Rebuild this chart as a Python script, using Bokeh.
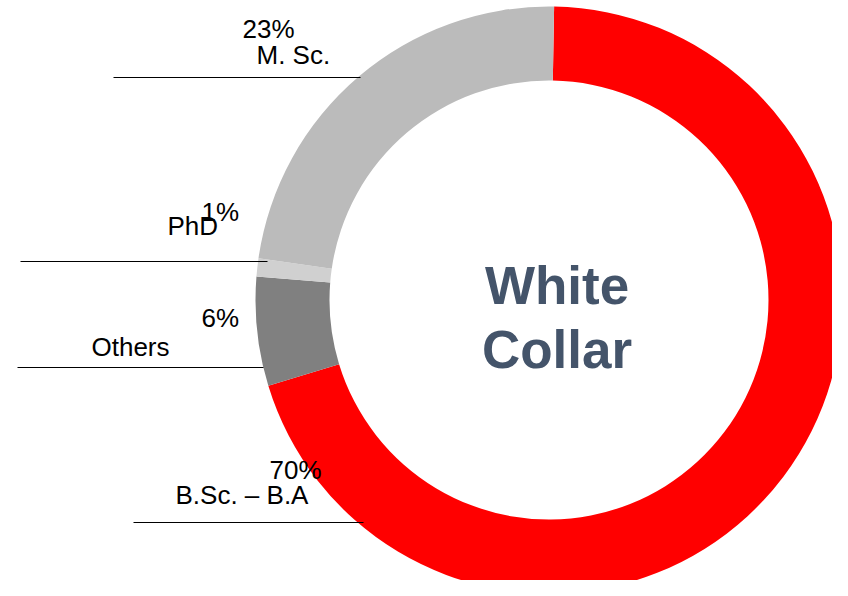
import numpy as np
from bokeh.plotting import figure
from bokeh.models import Range1d, ColumnDataSource
from bokeh.core.properties import value
from bokeh.embed import file_html
from bokeh.resources import INLINE

# ---- data ----
categories = ["B.Sc. – B.A", "Others", "PhD", "M. Sc."]
shares = [70, 6, 1, 23]
pct_labels = ["70%", "6%", "1%", "23%"]
colors = ["#FF0000", "#808080", "#D0D0D0", "#BBBBBB"]
center_title = ["White", "Collar"]

# ---- layout (screen pixel coords) ----
W, H = 832, 580
def sy(y):  # screen y -> data y
    return 596 - y

CX, CY = 548.5, 299.5
R_IN, R_OUT = 219.5, 293.5
START_DEG = 89.0
LBL_FS = 26
TTL_FS = 53
BASE_ADJ = 0.385  # renderer baseline offset (em)

# per-label layout: line x0, x1, line y, pct (x, baseline), name (x, baseline)
label_layout = {
    "M. Sc.":      dict(lx0=113, lx1=360, ly=77,  px=242, py=39,  nx=256, ny=65),
    "PhD":         dict(lx0=20,  lx1=267, ly=261, px=201, py=222, nx=167, ny=236),
    "Others":      dict(lx0=17,  lx1=263, ly=367, px=201, py=328, nx=91,  ny=357),
    "B.Sc. – B.A": dict(lx0=133, lx1=363, ly=522, px=269, py=480, nx=175, ny=505),
}

p = figure(width=W, height=H, output_backend="svg", toolbar_location=None,
           x_range=Range1d(0, W), y_range=Range1d(596 - H, 596),
           min_border=0, outline_line_color=None)
p.axis.visible = False
p.grid.visible = False
p.background_fill_color = "white"
p.border_fill_color = "white"

vals = np.array(shares, dtype=float)
frac = vals / vals.sum()
cum = np.concatenate([[0], np.cumsum(frac)])
starts = np.deg2rad(START_DEG - cum[:-1] * 360)
ends = np.deg2rad(START_DEG - cum[1:] * 360)

src = ColumnDataSource(dict(start=starts, end=ends, color=colors))
p.annular_wedge(x=CX, y=sy(CY), inner_radius=R_IN, outer_radius=R_OUT,
                start_angle="start", end_angle="end", direction="clock",
                fill_color="color", line_color=None, source=src)

# leader lines + labels
adj = BASE_ADJ * LBL_FS
for cat, pct in zip(categories, pct_labels):
    L = label_layout[cat]
    p.segment(x0=L["lx0"], y0=sy(L["ly"]), x1=L["lx1"], y1=sy(L["ly"]),
              line_color="#000000", line_width=1)
    p.text(x=[L["px"]], y=[sy(L["py"] - adj)], text=[pct], text_font=value("Liberation Sans"),
           text_font_size=f"{LBL_FS}px", text_color="#000000", text_align="left",
           text_baseline="alphabetic")
    p.text(x=[L["nx"]], y=[sy(L["ny"] - adj)], text=[cat], text_font=value("Liberation Sans"),
           text_font_size=f"{LBL_FS}px", text_color="#000000", text_align="left",
           text_baseline="alphabetic")

# center title
tadj = BASE_ADJ * TTL_FS
p.text(x=[556.5, 556.5], y=[sy(305 - tadj), sy(369 - tadj)], text=center_title,
       text_font=value("Liberation Sans"), text_font_style="bold",
       text_font_size=f"{TTL_FS}px", text_color="#44546A", text_align="center",
       text_baseline="alphabetic")

open("out.html", "w").write(file_html(p, INLINE))
